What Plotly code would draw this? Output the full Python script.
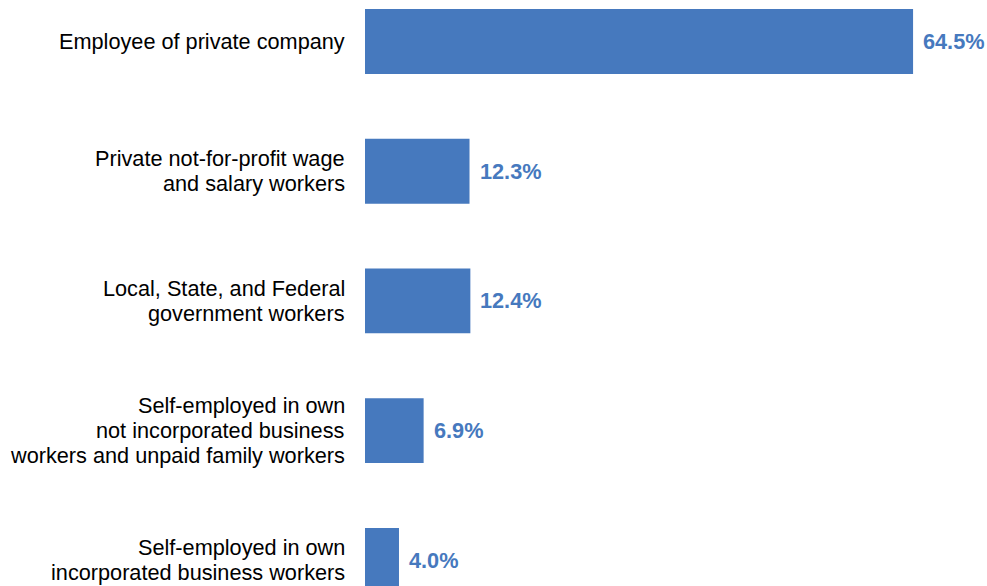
import plotly.graph_objects as go

# Share of workers by class of worker
categories = [
    "Employee of private company",
    "Private not-for-profit wage<br>and salary workers",
    "Local, State, and Federal<br>government workers",
    "Self-employed in own<br>not incorporated business<br>workers and unpaid family workers",
    "Self-employed in own<br>incorporated business workers",
]
shares = [64.5, 12.3, 12.4, 6.9, 4.0]
share_labels = ["64.5%", "12.3%", "12.4%", "6.9%", "4.0%"]

BAR_COLOR = "#4679BE"
FONT = "Liberation Sans, Arial, sans-serif"
FONT_SIZE = 21.7
LINE_STEP = 24.7

fig = go.Figure(
    go.Bar(
        x=shares,
        y=categories,
        orientation="h",
        marker=dict(color=BAR_COLOR, line=dict(width=0)),
        hoverinfo="skip",
    )
)

annotations = []
# category labels, one annotation per text line so line spacing stays tight
for cat in categories:
    lines = cat.split("<br>")
    n = len(lines)
    for k, line in enumerate(lines):
        annotations.append(dict(
            x=0, xref="paper", y=cat, yref="y",
            text=line, showarrow=False,
            xanchor="right", yanchor="middle", align="right",
            xshift=-18.5,
            yshift=-(k - (n - 1) / 2) * LINE_STEP,
            font=dict(family=FONT, size=FONT_SIZE, color="#000000"),
        ))

# value labels at the end of each bar
for cat, val, lab in zip(categories, shares, share_labels):
    annotations.append(dict(
        x=val, xref="x", y=cat, yref="y",
        text="<b>" + lab + "</b>", showarrow=False,
        xanchor="left", yanchor="middle", xshift=8,
        font=dict(family=FONT, size=FONT_SIZE, color=BAR_COLOR),
    ))

fig.update_layout(
    width=987, height=586,
    margin=dict(l=364.5, r=0, t=0, b=0),
    paper_bgcolor="white", plot_bgcolor="white",
    bargap=0.5,
    showlegend=False,
    xaxis=dict(range=[0, 622.5 / 8.504], visible=False, fixedrange=True),
    yaxis=dict(
        type="category",
        categoryorder="array", categoryarray=categories,
        range=[4.198, -0.32],
        showticklabels=False, showgrid=False, zeroline=False,
        showline=False, ticks="", fixedrange=True,
    ),
    annotations=annotations,
)

fig.write_html("out.html")
